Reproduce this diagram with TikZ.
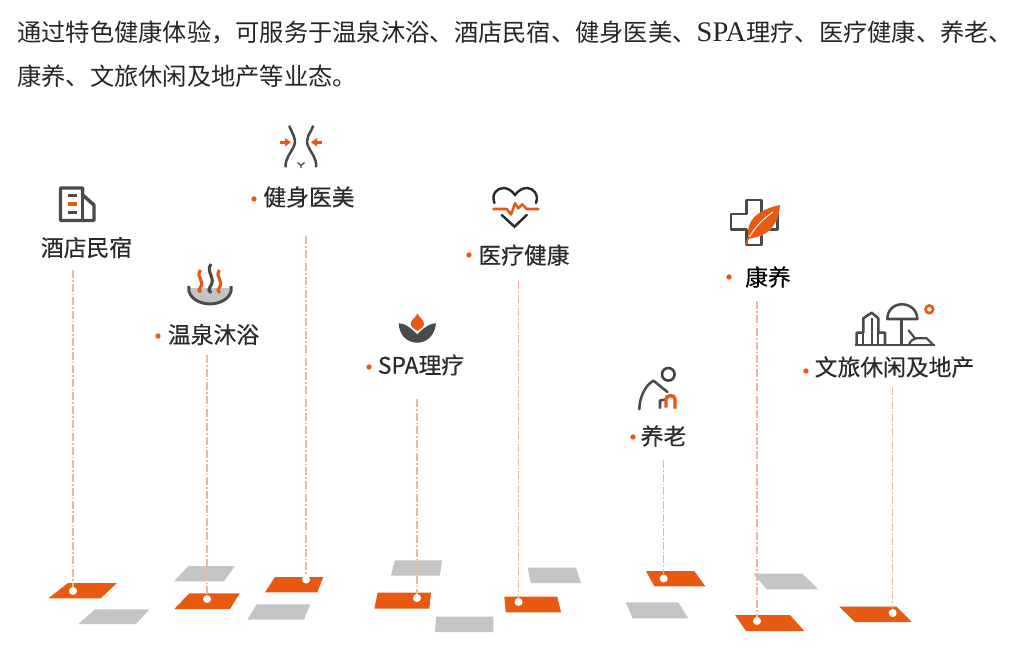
\documentclass[tikz,border=0pt]{standalone}
\usepackage{fontspec}
\setmainfont{Noto Sans CJK SC}
\newfontfamily\latinserif[Scale=1.17]{Liberation Serif}
\newfontfamily\lblfont[FakeBold=0.35]{Noto Sans CJK SC}
\definecolor{hot}{HTML}{E85A12}
\definecolor{pale}{HTML}{C4C4C4}
\definecolor{leadc}{HTML}{F0B6A0}
\definecolor{ink}{HTML}{2A2A2A}
\definecolor{icon}{HTML}{4A4A4A}
\tikzset{
  para/.style={fill=hot,draw=none},
  graypara/.style={fill=pale,draw=none},
  lbl/.style={inner sep=0pt,text=ink,font=\lblfont\fontsize{17.1}{20}\selectfont},
  para text/.style={inner sep=0pt,anchor=west,text=black!85,font=\fontsize{18.2}{22}\selectfont},
  bullet/.style={circle,fill=hot,draw=none,minimum size=4pt,inner sep=0pt},
  pdot/.style={circle,fill=white,draw=none,minimum size=6pt,inner sep=0pt},
  lead/.style={draw=leadc,line width=1pt,dash pattern=on 6pt off 1.5pt on 1.2pt off 1.5pt},
  ic/.style={draw=icon,line width=1.9pt,line join=round,fill=none},
  ich/.style={draw=hot,line width=1.9pt,line join=round,fill=none},
}
\begin{document}
\begin{tikzpicture}[x=0.75pt,y=-0.75pt]
\useasboundingbox (0,0) rectangle (1018,650);
\fill[white] (0,0) rectangle (1018,650);
% paragraph
\node[para text] (line1) at (17,32) {通过特色健康体验，可服务于温泉沐浴、酒店民宿、健身医美、{\latinserif SPA}理疗、医疗健康、养老、};
\node[para text] (line2) at (17,76) {康养、文旅休闲及地产等业态。};
% tiles
\fill[graypara] (78.3,624)--(95,609.3)--(149.3,609.3)--(136,624)--cycle;
\fill[graypara] (174,581.3)--(188.3,566)--(235,566)--(224,581.3)--cycle;
\fill[graypara] (247.3,619.7)--(256.7,604.3)--(310.3,604.3)--(304,619.7)--cycle;
\fill[graypara] (391,575.7)--(395,560.3)--(442,560.3)--(440,575.7)--cycle;
\fill[graypara] (435,632)--(436,616.7)--(493.3,616.7)--(493.3,632)--cycle;
\fill[graypara] (527.7,567.7)--(576,567.7)--(581,583)--(530.7,583)--cycle;
\fill[graypara] (625.7,602.3)--(678.3,602.3)--(688.3,618.3)--(632.7,618.3)--cycle;
\fill[graypara] (753.3,573.7)--(802.3,573.7)--(818.3,589.3)--(766.7,589.3)--cycle;
\fill[para] (48.3,598.3)--(68,583)--(117,583)--(100.7,598.3)--cycle;
\fill[para] (174.3,609)--(189.3,593.3)--(239.7,593.3)--(230,609)--cycle;
\fill[para] (265,592.3)--(275,577)--(323.3,577)--(317.3,592.3)--cycle;
\fill[para] (374.3,608.7)--(377.7,592.7)--(431,592.7)--(429.3,608.7)--cycle;
\fill[para] (504.3,596.7)--(557.3,596.7)--(561,612.3)--(505.7,612.3)--cycle;
\fill[para] (646,571)--(694.3,571)--(705.3,586.3)--(654.3,586.3)--cycle;
\fill[para] (735,615)--(790,615)--(804.3,631)--(746,631)--cycle;
\fill[para] (839.3,606.7)--(896.7,606.7)--(911.7,622)--(855,622)--cycle;
% leader ends
\coordinate (t1) at (73,270);
\coordinate (t2) at (207,355);
\coordinate (t3) at (306,236);
\coordinate (t4) at (417,399);
\coordinate (t5) at (518.5,281);
\coordinate (t6) at (663.7,460);
\coordinate (t7) at (757,301);
\coordinate (t8) at (892.7,387);
\node[pdot] (d1) at (73,591) {};
\node[pdot] (d2) at (207,599) {};
\node[pdot] (d3) at (306,579.5) {};
\node[pdot] (d4) at (417,598) {};
\node[pdot] (d5) at (518.5,602) {};
\node[pdot] (d6) at (663.7,578.5) {};
\node[pdot] (d7) at (757,621) {};
\node[pdot] (d8) at (892.7,613) {};
\foreach \i in {1,...,8} \draw[lead] (t\i) -- (d\i);
% labels
\node[lbl] (l1) at (86.5,247.5) {酒店民宿};
\node[lbl] (l2) at (213.5,334.5) {温泉沐浴};
\node[lbl] (l3) at (309,197) {健身医美};
\node[lbl] (l4) at (421,365) {SPA理疗};
\node[lbl] (l5) at (524,255) {医疗健康};
\node[lbl] (l6) at (663.5,436) {养老};
\node[lbl,text=black] (l7) at (768,277) {康养};
\node[lbl] (l8) at (894.5,367) {文旅休闲及地产};
\node[bullet] (b2) at (158,336) {};
\node[bullet] (b3) at (254,199) {};
\node[bullet] (b4) at (369,367) {};
\node[bullet] (b5) at (469,255) {};
\node[bullet] (b6) at (633,437) {};
\node[bullet] (b7) at (729,277) {};
\node[bullet] (b8) at (806,371) {};
% icon: building
\draw[ic,line width=2.6pt] (60.5,188)--(82.7,188)--(82.7,195)--(94,205)--(94,220.5)--(60.5,220.5)--cycle;
\draw[ic,line width=2.4pt] (82.7,195)--(82.7,220.5);
\draw[icon,line width=2.4pt] (67.5,195.7)--(77.3,195.7) (67.5,212.3)--(77.3,212.3);
\draw[hot,line width=2.4pt] (67.5,204)--(77.3,204);
% icon: waist
\draw[ic] (289.3,125.7) .. controls (292,134) and (297,138) .. (294,146) .. controls (291,153) and (285,158) .. (285.7,167.3);
\draw[ic] (313.3,125.7) .. controls (310,134) and (305,138) .. (308,146) .. controls (311,153) and (317,158) .. (316,167.3);
\draw[hot,line width=1.9pt] (280,142.3)--(287,142.3);
\fill[hot] (291,142.3)--(285,138)--(285,146.6)--cycle;
\draw[hot,line width=1.9pt] (321.7,142.3)--(315,142.3);
\fill[hot] (311,142.3)--(317,138)--(317,146.6)--cycle;
\draw[icon,line width=1pt] (297.5,162.5)--(301,165.5)--(304.5,162.5) (301,165.5)--(301,168);
% icon: hot spring
\fill[pale] (190,288) -- (230,288) .. controls (229,299) and (220,303) .. (210,303) .. controls (200,303) and (191,299) .. (190,288) -- cycle;
\draw[ic,line width=2.2pt] (188.8,286) .. controls (187,298) and (200,304) .. (210,304) .. controls (220,304) and (233,298) .. (231.2,286);
\draw[hot,line width=2.3pt] (200.5,270) .. controls (195,277) and (206,281) .. (200,288) .. controls (198,290) and (199,291) .. (201,292);
\draw[icon,line width=2.3pt] (211,264) .. controls (205,272) and (217,278) .. (210,287) .. controls (208,289) and (209,291) .. (211,293);
\draw[hot,line width=2.3pt] (219.5,270) .. controls (214,277) and (225,281) .. (219,288) .. controls (217,290) and (218,291) .. (220,293);
% icon: lotus
\fill[hot] (417.3,313.3) .. controls (419,318) and (424,319) .. (424,324) .. controls (424,327) and (420,329) .. (417.3,331) .. controls (414.6,329) and (410.7,327) .. (410.7,324) .. controls (410.7,319) and (416,318) .. (417.3,313.3) -- cycle;
\fill[icon] (398.7,323.3) .. controls (405,323) and (412,329) .. (417.3,334.5) .. controls (422,329) and (430,323) .. (436,323.3) .. controls (435,335) and (427,342.7) .. (417.3,342.7) .. controls (407,342.7) and (399,335) .. (398.7,323.3) -- cycle;
% icon: heart
\draw[draw=ink,line width=1.8pt,line cap=round] (494.5,203) .. controls (491,194) and (497,188) .. (503.5,188) .. controls (508,188) and (512,191) .. (515,195) .. controls (518,191) and (522,188) .. (527,188) .. controls (533,188) and (539,194) .. (536,203);
\draw[draw=ink,line width=1.8pt,line cap=round] (501.7,215)--(514.5,226.7)--(526.7,215);
\draw[ich,line cap=round] (493.3,209)--(506.7,209)--(511,214.5)--(515,203.3)--(518.3,208.3)--(522.3,204.3)--(526.7,209)--(538.3,209);
% icon: elder
\draw[draw=ink!90,line width=1.9pt] (668.3,374.3) circle (6.3);
\draw[ic,line cap=round] (639.3,409.3) .. controls (639.5,395) and (647,384) .. (653.5,380.7) -- (667.5,392);
\draw[ic] (660,408.7)--(660,400.5)--(666,399.5);
\draw[hot,line width=2.6pt] (666,407.5)--(666,399) .. controls (666,394.5) and (675,394.5) .. (675,399) -- (675,408.7);
% icon: cross and leaf
\draw[ic,line width=2.2pt] (746.7,200)--(761.7,200)--(761.7,214)--(777.3,214)--(777.3,229.3)--(761.7,229.3)--(761.7,245)--(746.7,245)--(746.7,229.3)--(731,229.3)--(731,214)--(746.7,214)--cycle;
\fill[white] (749,232) .. controls (750,216) and (763,210) .. (780,205) .. controls (778,222) and (772,236) .. (748,239) -- cycle;
\fill[hot] (745,245) -- (748.3,236) .. controls (746,222) and (756,210) .. (780,205) .. controls (779,220) and (772,236) .. (749,238.5) -- (746.5,245) -- cycle;
\draw[white,line width=0.7pt] (749.5,237) .. controls (755,227) and (764,218) .. (773,212);
% icon: city
\draw[ic] (855,345)--(935,345);
\draw[ic] (856.7,345)--(856.7,332.7)--(863.3,332.7)--(863.3,318.3)--(871.7,312.7)--(878.3,318.3)--(878.3,332.7)--(885,332.7)--(885,345);
\draw[ic,line width=1.4pt] (871.7,318)--(871.7,345) (863.3,332.7)--(863.3,345) (878.3,332.7)--(878.3,345);
\draw[ic] (887.3,319) .. controls (887.3,310) and (894,304.3) .. (902,304.3) .. controls (910,304.3) and (917.3,310) .. (917.3,319) -- cycle;
\draw[ic] (901.7,319)--(901.7,345);
\draw[ic,line width=1.6pt] (908.3,330)--(915,338.3)--(926.7,338.3)--(933.3,345);
\draw[ic,line width=1.6pt] (909,345) .. controls (910,341) and (913,339) .. (916,338.3);
\draw[hot,line width=2pt] (929.3,309.3) circle (3.8);
\end{tikzpicture}
\end{document}
